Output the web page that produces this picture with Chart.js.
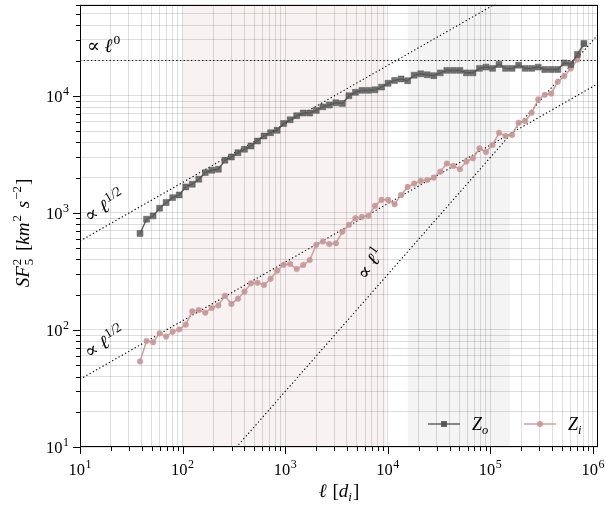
<!DOCTYPE html>
<html><head><meta charset="utf-8">
<script src="https://cdn.jsdelivr.net/npm/chart.js@4.4.1/dist/chart.umd.min.js"></script>
<style>html,body{margin:0;padding:0;background:#fff}#wrap{width:606px;height:506px}</style>
</head><body><div id="wrap"><canvas id="c" width="606" height="506"></canvas></div>
<script>
// ---- data ----
const lags = [38.46,44.54,51.57,59.70,69.11,80.03,92.65,107.3,124.2,143.8,166.5,192.7,223.2,258.4,299.2,346.4,401.0,464.4,537.6,622.3,720.6,834.3,965.8,1118,1295,1499,1735,2009,2326,2694,3118,3610,4181,4840,5604,6489,7513,8698,10070,11660,13500,15620,18090,20950,24250,28080,32510,37640,43580,50460,58430,67650,78320,90660,105000,121500,140700,162900,188600,218400,252800,292700,338900,392400,454300,526000,609000,705100,816300];
const zoValues = [667,883,942,1097,1225,1350,1423,1666,1757,1938,2207,2312,2356,2812,3000,3264,3490,3724,4110,4533,4842,5070,5800,6240,6760,7120,7120,7510,8040,8337,8720,8610,10000,10710,11120,11120,11250,11860,12790,13530,13930,13450,15000,15410,15130,14860,15700,16480,16480,16480,15700,15700,17140,17580,17140,18520,17140,17140,18270,17140,17140,17580,16790,16790,16790,19100,18520,22550,27990];
const ziValues = [53.7,80.5,78.4,93.5,87.7,96.7,101,110.9,144.1,148,140.4,154,162,196,166.9,185,212.3,250,253,242,273,320.7,360.8,365.7,331.4,358.4,395,533,569,541,550,689,791,901,925,943,1148,1292,1292,1186,1423,1666,1778,1875,1911,2000,2250,2640,2518,2361,2750,2924,3561,3310,3800,4830,4531,4624,5890,6085,7165,9315,10200,10450,13160,14730,17130,20400,27800];
// reference power laws (endpoints)
const refX = [10, 1.2e6];
const refL0 = [20000, 20000];
const refHalfUpper = [575, 199400];
const refHalfLower = [37.9, 13150];
const refL1 = [0.298, 35710];
const xTickExponents = [1,2,3,4,5,6];
const yTickExponents = [1,2,3,4];
const pinkBand = [100, 9600];
const grayBand = [15700, 155000];
const X_MIN = 10, X_MAX = 1.12e6, Y_MIN = 10, Y_MAX = 6e4;

const SERIF = '"Liberation Serif","DejaVu Serif",serif';
const ZO_COLOR = 'rgba(70,70,70,0.85)';
const ZI_COLOR = 'rgba(200,150,150,0.9)';

function logTicks(min, max){
  const t = [];
  for (let e = Math.floor(Math.log10(min)); e <= Math.ceil(Math.log10(max)); e++)
    for (let k = 1; k < 10; k++){ const v = k * Math.pow(10, e); if (v >= min*0.999 && v <= max*1.001) t.push(v); }
  return t;
}
function pts(xs, ys){ return xs.map((x,i)=>({x:x, y:ys[i]})); }

function drawRich(ctx, parts, x, y, align, rot){
  ctx.save(); ctx.translate(x, y); if (rot) ctx.rotate(rot);
  ctx.textAlign = 'left'; ctx.textBaseline = 'alphabetic'; ctx.fillStyle = '#000';
  let w = 0;
  parts.forEach(p=>{ ctx.font = p.f; if (p.adv !== false) w += ctx.measureText(p.t).width + (p.dx||0); });
  let cx = align === 'center' ? -w/2 : (align === 'right' ? -w : 0);
  parts.forEach(p=>{ ctx.font = p.f; ctx.fillText(p.t, cx + (p.dx||0), p.dy||0); if (p.adv !== false) cx += ctx.measureText(p.t).width + (p.dx||0); });
  ctx.restore();
}
const F = (s, it) => (it ? 'italic ' : '') + s + 'px ' + SERIF;

const decor = {
  id: 'decor',
  beforeDraw(chart){
    const {ctx, chartArea:a, scales:{x}} = chart;
    ctx.save();
    ctx.fillStyle = '#fff'; ctx.fillRect(0, 0, chart.width, chart.height);
    ctx.fillStyle = 'rgba(200,150,150,0.12)';
    let x0 = x.getPixelForValue(pinkBand[0]), x1 = x.getPixelForValue(pinkBand[1]);
    ctx.fillRect(x0, a.top, x1 - x0, a.bottom - a.top);
    ctx.fillStyle = 'rgba(128,128,128,0.09)';
    x0 = x.getPixelForValue(grayBand[0]); x1 = x.getPixelForValue(grayBand[1]);
    ctx.fillRect(x0, a.top, x1 - x0, a.bottom - a.top);
    ctx.restore();
  },
  afterDraw(chart){
    const {ctx, chartArea:a, scales:{x, y}} = chart;
    ctx.save();
    // frame
    ctx.strokeStyle = '#000'; ctx.lineWidth = 1;
    ctx.strokeRect(Math.round(a.left)+0.5, Math.round(a.top)+0.5, Math.round(a.right-a.left)-1, Math.round(a.bottom-a.top)-1);
    // ticks
    ctx.beginPath();
    logTicks(X_MIN, X_MAX).forEach(v=>{
      const px = Math.round(x.getPixelForValue(v)) + 0.5;
      const major = Math.abs(Math.log10(v) - Math.round(Math.log10(v))) < 1e-6;
      ctx.moveTo(px, a.bottom); ctx.lineTo(px, a.bottom + (major ? 7 : 4));
    });
    logTicks(Y_MIN, Y_MAX).forEach(v=>{
      const py = Math.round(y.getPixelForValue(v)) + 0.5;
      const major = Math.abs(Math.log10(v) - Math.round(Math.log10(v))) < 1e-6;
      ctx.moveTo(a.left, py); ctx.lineTo(a.left - (major ? 7 : 4), py);
    });
    ctx.stroke();
    // tick labels
    xTickExponents.forEach(e=>{
      const px = x.getPixelForValue(Math.pow(10, e));
      drawRich(ctx, [{t:'10', f:F(16.5)}, {t:String(e), f:F(12), dy:-7, dx:0.5}], px, a.bottom + 28, 'center');
    });
    yTickExponents.forEach(e=>{
      const py = y.getPixelForValue(Math.pow(10, e));
      drawRich(ctx, [{t:'10', f:F(16.5)}, {t:String(e), f:F(12), dy:-7, dx:0.5}], a.left - 11, py + 6, 'right');
    });
    // axis titles
    drawRich(ctx, [{t:'\u2113', f:F(19, true)}, {t:' [', f:F(19), dx:1}, {t:'d', f:F(19, true)}, {t:'i', f:F(13, true), dy:4}, {t:']', f:F(19), dx:1}],
      (a.left + a.right)/2, 497, 'center');
    drawRich(ctx, [
      {t:'SF', f:F(19, true)}, {t:'5', f:F(13), dy:4, adv:false, dx:1}, {t:'2', f:F(13), dy:-8, dx:1},
      {t:' [', f:F(19), dx:3}, {t:'km', f:F(19, true)}, {t:'2', f:F(13), dy:-8, dx:1}, {t:' ', f:F(19), dx:2},
      {t:'s', f:F(19, true)}, {t:'\u22122', f:F(13), dy:-8, dx:1}, {t:']', f:F(19), dx:1}
    ], 29, 233, 'center', -Math.PI/2);
    // annotations
    const ann = (sup) => [{t:'\u221D ', f:F(19)}, {t:'\u2113', f:F(19, true)}, {t:sup, f:F(13.5), dy:-8, dx:1}];
    drawRich(ctx, ann('0'), 87, 52, 'left');
    drawRich(ctx, ann('1/2'), 89, 223, 'left', -31*Math.PI/180);
    drawRich(ctx, ann('1/2'), 89, 359, 'left', -31*Math.PI/180);
    drawRich(ctx, ann('1'), 366, 281, 'left', -55*Math.PI/180);
    // legend
    const ly = 424;
    ctx.lineWidth = 1.5;
    ctx.strokeStyle = ZO_COLOR; ctx.beginPath(); ctx.moveTo(428, ly); ctx.lineTo(460, ly); ctx.stroke();
    ctx.fillStyle = ZO_COLOR; ctx.fillRect(441, ly - 3, 6, 6);
    ctx.strokeStyle = ZI_COLOR; ctx.beginPath(); ctx.moveTo(524, ly); ctx.lineTo(556, ly); ctx.stroke();
    ctx.fillStyle = ZI_COLOR; ctx.beginPath(); ctx.arc(540, ly, 3, 0, 2*Math.PI); ctx.fill();
    drawRich(ctx, [{t:'Z', f:F(18, true)}, {t:'o', f:F(12.5, true), dy:4}], 472, ly + 6, 'left');
    drawRich(ctx, [{t:'Z', f:F(18, true)}, {t:'i', f:F(12.5, true), dy:4}], 568, ly + 6, 'left');
    ctx.restore();
  }
};

const refStyle = {borderColor:'#000', borderWidth:1.1, borderDash:[1.3,2.4], pointRadius:0, fill:false, order:2, tension:0};
new Chart(document.getElementById('c'), {
  type: 'line',
  data: { datasets: [
    {label:'Zo', data:pts(lags, zoValues), borderColor:ZO_COLOR, backgroundColor:ZO_COLOR, pointBackgroundColor:'rgba(90,90,90,0.85)', pointBorderColor:ZO_COLOR, pointBorderWidth:0.5, pointStyle:'rect', pointRadius:4.2, borderWidth:1.5, order:0, tension:0},
    {label:'Zi', data:pts(lags, ziValues), borderColor:ZI_COLOR, backgroundColor:ZI_COLOR, pointBackgroundColor:ZI_COLOR, pointBorderColor:ZI_COLOR, pointBorderWidth:0.5, pointStyle:'circle', pointRadius:2.8, borderWidth:1.5, order:1, tension:0},
    Object.assign({label:'l0', data:pts(refX, refL0)}, refStyle),
    Object.assign({label:'half-up', data:pts(refX, refHalfUpper)}, refStyle),
    Object.assign({label:'half-low', data:pts(refX, refHalfLower)}, refStyle),
    Object.assign({label:'l1', data:pts(refX, refL1)}, refStyle)
  ]},
  options: {
    responsive:false, animation:false, events:[],
    layout:{padding:{left:0, top:4, right:8, bottom:0}},
    plugins:{legend:{display:false}, tooltip:{enabled:false}},
    scales:{
      x:{type:'logarithmic', min:X_MIN, max:X_MAX,
         afterBuildTicks:s=>{ s.ticks = logTicks(X_MIN, X_MAX).map(v=>({value:v})); },
         afterFit:s=>{ s.height = 59; },
         ticks:{display:false}, grid:{color:'rgba(0,0,0,0.13)', lineWidth:1, drawTicks:false}, border:{display:false}},
      y:{type:'logarithmic', min:Y_MIN, max:Y_MAX,
         afterBuildTicks:s=>{ s.ticks = logTicks(Y_MIN, Y_MAX).map(v=>({value:v})); },
         afterFit:s=>{ s.width = 80; },
         ticks:{display:false}, grid:{color:'rgba(0,0,0,0.13)', lineWidth:1, drawTicks:false}, border:{display:false}}
    }
  },
  plugins:[decor]
});
</script></body></html>
